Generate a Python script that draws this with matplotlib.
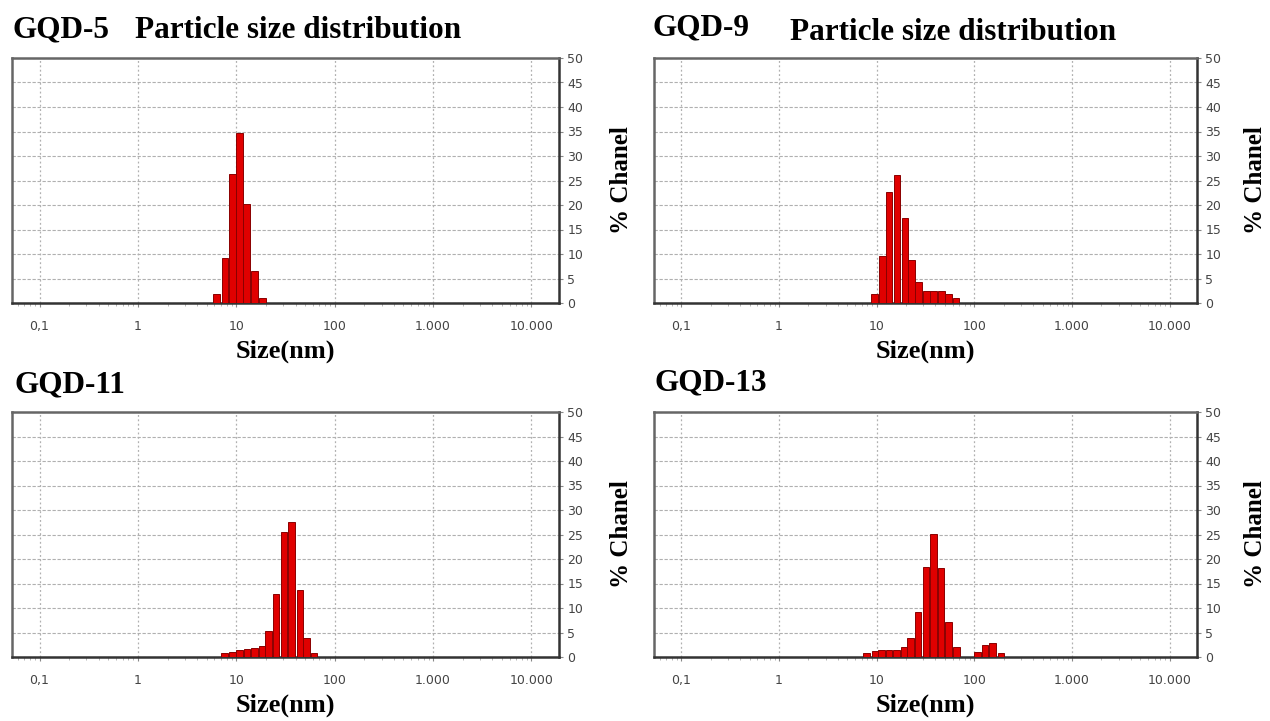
import numpy as np
import matplotlib
matplotlib.use("Agg")
import matplotlib.pyplot as plt
from matplotlib.ticker import FixedLocator, FixedFormatter, NullFormatter

# ---------------- data ----------------
titles = ["GQD-5", "GQD-9", "GQD-11", "GQD-13"]
subtitle = "Particle size distribution"

sizes_gqd5 = [6.3, 7.7, 9.2, 10.7, 12.7, 15.3, 18.4]
pct_gqd5 = [1.8, 9.1, 26.4, 34.6, 20.3, 6.5, 1.0]

sizes_gqd9 = [9.5, 11.4, 13.4, 16.1, 19.5, 22.6, 27.0, 32.2, 38.4, 46.2, 54.4, 64.9]
pct_gqd9 = [1.9, 9.5, 22.7, 26.2, 17.4, 8.7, 4.3, 2.5, 2.4, 2.4, 1.9, 1.0]

sizes_gqd11 = [7.6, 9.1, 10.7, 12.8, 15.4, 18.2, 21.2, 25.3, 30.5, 36.4, 44.5, 51.8, 61.8]
pct_gqd11 = [0.8, 1.1, 1.4, 1.6, 1.9, 2.3, 5.3, 12.9, 25.6, 27.6, 13.6, 3.9, 0.8]

sizes_gqd13 = [7.9, 9.6, 11.2, 13.4, 16.0, 19.1, 22.3, 26.6, 32.1, 38.3, 45.7, 54.0, 65.2,
               108, 129, 154, 188]
pct_gqd13 = [0.8, 1.2, 1.5, 1.5, 1.5, 2.0, 3.9, 9.2, 18.4, 25.1, 18.2, 7.1, 2.0,
             1.0, 2.5, 2.9, 0.9]

xticks = [0.1, 1, 10, 100, 1000, 10000]
xtick_labels = ["0,1", "1", "10", "100", "1.000", "10.000"]
yticks = list(range(0, 55, 5))
ylabel = "% Chanel"
xlabel = "Size(nm)"

datasets = [(sizes_gqd5, pct_gqd5), (sizes_gqd9, pct_gqd9),
            (sizes_gqd11, pct_gqd11), (sizes_gqd13, pct_gqd13)]

# ---------------- layout ----------------
W, H = 1270, 721
fig = plt.figure(figsize=(W / 100, H / 100), dpi=100)
fig.patch.set_facecolor("white")

# pixel boxes: left, right, top, bottom
boxes = [(12, 559, 58, 303), (654, 1197, 58, 303),
         (12, 559, 412, 657), (654, 1197, 412, 657)]
ylabel_x = [621, 1256, 621, 1256]

serif = ["Liberation Serif", "DejaVu Serif"]
half_w = 0.034  # half bar width in decades

for i, ((l, r, t, b), (sz, pc)) in enumerate(zip(boxes, datasets)):
    ax = fig.add_axes([l / W, 1 - b / H, (r - l) / W, (b - t) / H])
    ax.set_xscale("log")
    ax.set_xlim(10 ** -1.28, 10 ** 4.28)
    ax.set_ylim(0, 50)
    sz = np.asarray(sz, dtype=float)
    left = sz * 10 ** (-half_w)
    right = sz * 10 ** (half_w)
    ax.bar(left, pc, width=right - left, align="edge",
           color="#e00000", edgecolor="#8a0000", linewidth=0.7, zorder=3)

    ax.xaxis.set_major_locator(FixedLocator(xticks))
    ax.xaxis.set_major_formatter(FixedFormatter(xtick_labels))
    minors = [m * 10.0 ** e for e in range(-2, 5) for m in range(2, 10)]
    ax.xaxis.set_minor_locator(FixedLocator(minors))
    ax.xaxis.set_minor_formatter(NullFormatter())
    ax.yaxis.tick_right()
    ax.set_yticks(yticks)
    ax.tick_params(axis="both", which="major", labelsize=9, labelcolor="#444",
                   color="#888", length=3, width=0.8, pad=3)
    ax.tick_params(axis="x", which="minor", color="#aaa", length=2, width=0.6)
    ax.tick_params(axis="x", which="major", pad=9)
    for lab in ax.get_xticklabels() + ax.get_yticklabels():
        lab.set_fontfamily("DejaVu Sans")

    ax.grid(True, which="major", axis="x", color="#b0b0b0", linestyle=(0, (1.5, 2)),
            linewidth=0.9, zorder=0)
    ax.grid(True, which="major", axis="y", color="#b0b0b0", linestyle=(0, (3, 1.5)),
            linewidth=0.8, zorder=0)
    for name, sp in ax.spines.items():
        sp.set_color("#333" if name in ("right", "bottom") else "#666")
        sp.set_linewidth(1.8)

    ax.set_xlabel(xlabel, fontfamily=serif, fontweight="bold", fontsize=19,
                  labelpad=5)
    fig.text(ylabel_x[i] / W, 1 - (t + b) / 2 / H, ylabel, rotation=90,
             fontfamily=serif, fontweight="bold", fontsize=18,
             ha="center", va="center")

# titles
fig.text(12 / W, 1 - 30 / H, titles[0], fontfamily=serif, fontweight="bold",
         fontsize=22.5, va="center", ha="left")
fig.text(135 / W, 1 - 30 / H, subtitle, fontfamily=serif, fontweight="bold",
         fontsize=22.5, va="center", ha="left")
fig.text(652 / W, 1 - 28 / H, titles[1], fontfamily=serif, fontweight="bold",
         fontsize=22.5, va="center", ha="left")
fig.text(790 / W, 1 - 32 / H, subtitle, fontfamily=serif, fontweight="bold",
         fontsize=22.5, va="center", ha="left")
fig.text(14 / W, 1 - 385 / H, titles[2], fontfamily=serif, fontweight="bold",
         fontsize=22.5, va="center", ha="left")
fig.text(655 / W, 1 - 383 / H, titles[3], fontfamily=serif, fontweight="bold",
         fontsize=22.5, va="center", ha="left")

fig.savefig("out.png", dpi=100, facecolor="white")
